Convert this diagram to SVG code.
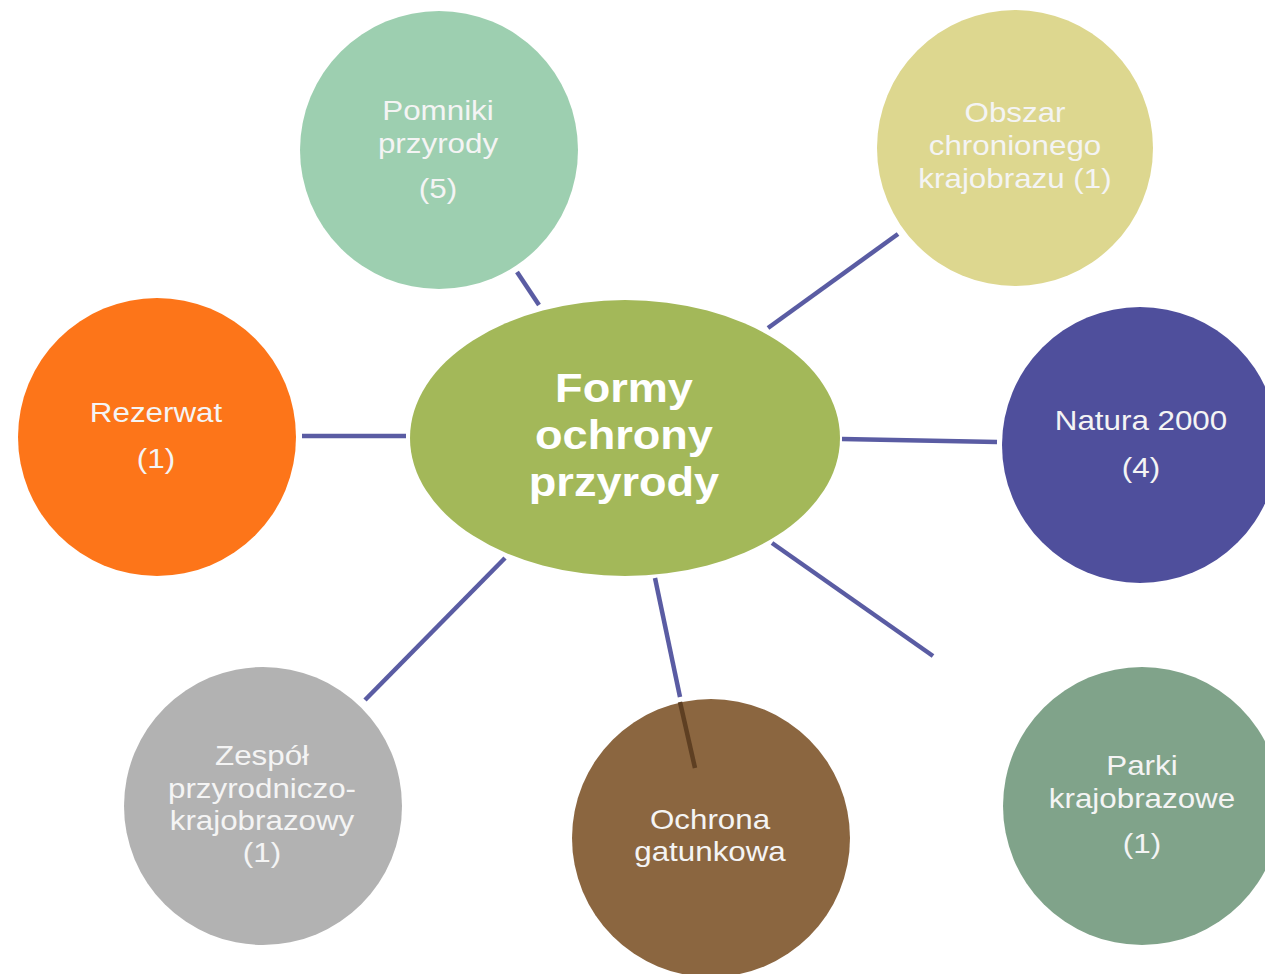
<svg xmlns="http://www.w3.org/2000/svg" width="1265" height="974" viewBox="0 0 1265 974">
<style>
.t{font-family:"Liberation Sans",Arial,sans-serif;font-size:28.5px;fill:#f4f4f4;text-anchor:middle}
.c{font-family:"Liberation Sans",Arial,sans-serif;font-size:41px;font-weight:bold;fill:#ffffff;text-anchor:middle}
.ln{stroke:#5a5ca3;stroke-width:4.5;fill:none}
</style>
<rect width="1265" height="974" fill="#ffffff"/>
<g id="connectors">
<line class="ln" x1="517" y1="272" x2="539" y2="305"/>
<line class="ln" x1="898" y1="234" x2="768" y2="328"/>
<line class="ln" x1="842" y1="439" x2="997" y2="442"/>
<line class="ln" x1="302" y1="436" x2="406" y2="436"/>
<line class="ln" x1="505" y1="558" x2="365" y2="700"/>
<line class="ln" x1="655" y1="578" x2="680" y2="697"/>
<line class="ln" x1="772" y1="543" x2="933" y2="656"/>
</g>
<g id="center">
<ellipse cx="625" cy="438" rx="215" ry="138" fill="#a3b859"/>
<g transform="translate(624,0) scale(1.1,1)">
<text class="c" x="0" y="402">Formy</text>
<text class="c" x="0" y="449">ochrony</text>
<text class="c" x="0" y="496">przyrody</text>
</g>
</g>
<g id="pomniki">
<circle cx="439" cy="150" r="139" fill="#9dcfb0"/>
<g transform="translate(438,0) scale(1.1,1)">
<text class="t" x="0" y="120">Pomniki</text>
<text class="t" x="0" y="153">przyrody</text>
<text class="t" x="0" y="198">(5)</text>
</g>
</g>
<g id="obszar">
<circle cx="1015" cy="148" r="138" fill="#ddd78f"/>
<g transform="translate(1015,0) scale(1.1,1)">
<text class="t" x="0" y="122">Obszar</text>
<text class="t" x="0" y="155">chronionego</text>
<text class="t" x="0" y="188">krajobrazu (1)</text>
</g>
</g>
<g id="natura">
<circle cx="1140" cy="445" r="138" fill="#4f4f9c"/>
<g transform="translate(1141,0) scale(1.1,1)">
<text class="t" x="0" y="430">Natura 2000</text>
<text class="t" x="0" y="477">(4)</text>
</g>
</g>
<g id="rezerwat">
<circle cx="157" cy="437" r="139" fill="#fd7519"/>
<g transform="translate(156,0) scale(1.1,1)">
<text class="t" x="0" y="422">Rezerwat</text>
<text class="t" x="0" y="468">(1)</text>
</g>
</g>
<g id="zespol">
<circle cx="263" cy="806" r="139" fill="#b2b2b2"/>
<g transform="translate(262,0) scale(1.1,1)">
<text class="t" x="0" y="765">Zespół</text>
<text class="t" x="0" y="798">przyrodniczo-</text>
<text class="t" x="0" y="830">krajobrazowy</text>
<text class="t" x="0" y="862">(1)</text>
</g>
</g>
<g id="ochrona">
<circle cx="711" cy="838" r="139" fill="#8b6640"/>
<line x1="680" y1="702" x2="695" y2="768" stroke="#5e3f22" stroke-width="4.5"/>
<g transform="translate(710,0) scale(1.1,1)">
<text class="t" x="0" y="829">Ochrona</text>
<text class="t" x="0" y="861">gatunkowa</text>
</g>
</g>
<g id="parki">
<circle cx="1142" cy="806" r="139" fill="#80a38a"/>
<g transform="translate(1142,0) scale(1.1,1)">
<text class="t" x="0" y="775">Parki</text>
<text class="t" x="0" y="808">krajobrazowe</text>
<text class="t" x="0" y="853">(1)</text>
</g>
</g>
</svg>
